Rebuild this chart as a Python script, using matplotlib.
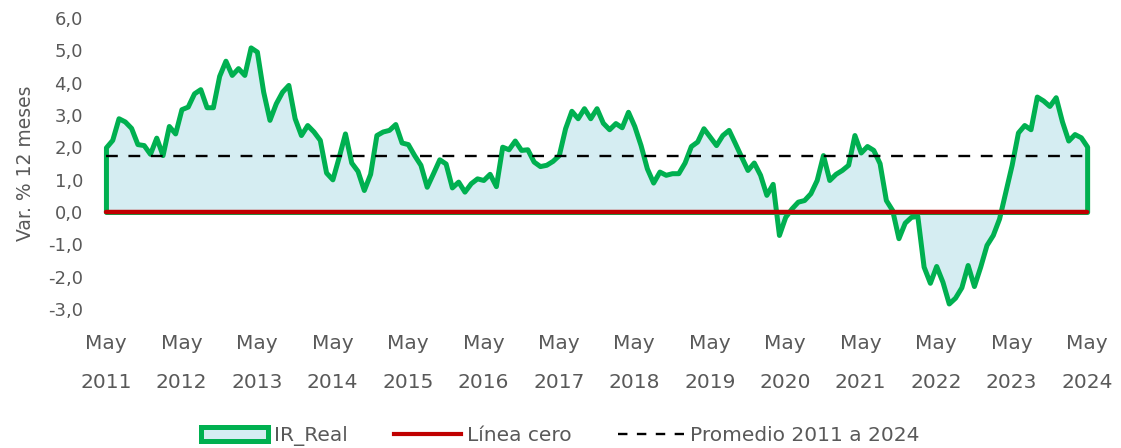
import matplotlib.pyplot as plt
import matplotlib.patches as mpatches
import matplotlib.lines as mlines
from matplotlib.ticker import FuncFormatter

# IR real, var. % 12 meses, mensual de may-2011 a may-2024
ir_real = [
    2.0, 2.23, 2.9, 2.8, 2.6, 2.1, 2.07, 1.8, 2.3, 1.76,
    2.66, 2.43, 3.18, 3.26, 3.67, 3.8, 3.24, 3.24, 4.21, 4.68,
    4.24, 4.45, 4.24, 5.09, 4.96, 3.72, 2.85, 3.36, 3.72, 3.93,
    2.9, 2.38, 2.69, 2.49, 2.23, 1.22, 1.01, 1.7, 2.43, 1.53,
    1.27, 0.68, 1.18, 2.38, 2.49, 2.54, 2.72, 2.15, 2.1, 1.76,
    1.46, 0.78, 1.2, 1.63, 1.5, 0.76, 0.94, 0.63, 0.89, 1.04,
    0.99, 1.18, 0.8, 2.02, 1.94, 2.21, 1.92, 1.94, 1.56, 1.42,
    1.46, 1.58, 1.76, 2.59, 3.13, 2.9, 3.21, 2.9, 3.21, 2.76,
    2.56, 2.75, 2.62, 3.1, 2.66, 2.07, 1.35, 0.91, 1.25, 1.15,
    1.2, 1.2, 1.53, 2.04, 2.18, 2.59, 2.33, 2.07, 2.38, 2.54,
    2.13, 1.71, 1.3, 1.53, 1.15, 0.53, 0.87, -0.71, -0.15, 0.11,
    0.32, 0.37, 0.58, 0.99, 1.76, 0.99, 1.18, 1.3, 1.46, 2.38,
    1.84, 2.04, 1.92, 1.51, 0.37, 0.06, -0.81, -0.33, -0.15, -0.12,
    -1.69, -2.19, -1.67, -2.16, -2.83, -2.65, -2.33, -1.64, -2.29, -1.69,
    -1.02, -0.71, -0.2, 0.63, 1.46, 2.46, 2.69, 2.56, 3.57, 3.45,
    3.28, 3.55, 2.8, 2.21, 2.41, 2.31, 2.02,
]
promedio = 1.73
anios = list(range(2011, 2025))
yticks = [-3, -2, -1, 0, 1, 2, 3, 4, 5, 6]

x = list(range(len(ir_real)))
verde = "#00B050"
celeste = "#D5EDF2"
rojo = "#C00000"
gris = "#595959"
narrow = ["Liberation Sans Narrow", "DejaVu Sans"]

fig = plt.figure(figsize=(11.21, 4.48), dpi=100)
ax = fig.add_axes([0.0889, 0.3103, 0.8865, 0.6495])

ax.fill_between(x, 0, ir_real, facecolor=celeste, edgecolor=verde, linewidth=3.6, zorder=2)
ax.plot([x[0], x[-1]], [0, 0], color=rojo, linewidth=3.2, solid_capstyle="round", zorder=3)
ax.plot([x[0], x[-1]], [promedio, promedio], color="black", linewidth=1.7,
        dashes=(5, 4.5), zorder=4)

ax.set_xlim(-1, len(ir_real))
ax.set_ylim(-3, 6)
ax.set_yticks(yticks)
ax.yaxis.set_major_formatter(FuncFormatter(lambda v, p: f"{v:.1f}".replace(".", ",")))
ax.set_xticks([12 * k for k in range(len(anios))])
ax.set_xticklabels([f"May\n\n{a}" for a in anios], family=narrow, fontsize=14.5,
                   color=gris, linespacing=1.05)
for s in ax.spines.values():
    s.set_visible(False)
ax.tick_params(axis="both", length=0)
ax.tick_params(axis="x", pad=18)
ax.tick_params(axis="y", labelsize=13, labelcolor=gris, pad=12)
ax.set_ylabel("Var. % 12 meses", fontsize=13.5, color=gris, labelpad=9)

h1 = mpatches.Patch(facecolor=celeste, edgecolor=verde, linewidth=3.6)
h2 = mlines.Line2D([], [], color=rojo, linewidth=3)
h3 = mlines.Line2D([], [], color="black", linewidth=1.7, dashes=(4, 4))
leg = fig.legend([h1, h2, h3], ["IR_Real", "Línea cero", "Promedio 2011 a 2024"],
                 loc="center", bbox_to_anchor=(0.5, 0.027), ncol=3, frameon=False,
                 handlelength=3.3, handletextpad=0.3, columnspacing=2.3,
                 prop={"family": narrow, "size": 14.5})
for t in leg.get_texts():
    t.set_color(gris)

fig.savefig("out.png", dpi=100)
